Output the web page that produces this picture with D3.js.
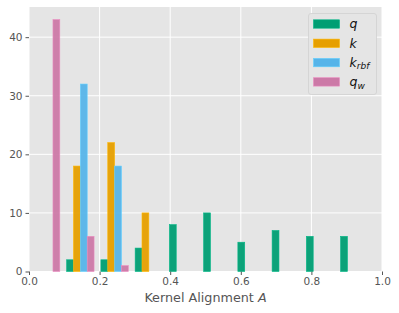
<!DOCTYPE html>
<html>
<head>
<meta charset="utf-8">
<script src="https://cdn.jsdelivr.net/npm/d3@7"></script>
<style>
  body { margin: 0; background: #fff; }
  text { font-family: "DejaVu Sans", sans-serif; }
</style>
</head>
<body>
<div id="chart"></div>
<script>
(function() {

  // bin edges (10 bins)
  const binEdges = [0.000, 0.097, 0.194, 0.291, 0.388, 0.485, 0.582, 0.679, 0.776, 0.873, 0.970];

  const seriesNames = ['q', 'k', 'krbf', 'qw'];
  const seriesColors = ['#009E73', '#E69F00', '#56B4E9', '#CC79A7'];

  const qCounts    = [0, 2, 2, 4, 8, 10, 5, 7, 6, 6];
  const kCounts    = [0, 18, 22, 10, 0, 0, 0, 0, 0, 0];
  const krbfCounts = [0, 32, 18, 0, 0, 0, 0, 0, 0, 0];
  const qwCounts   = [43, 6, 1, 0, 0, 0, 0, 0, 0, 0];

  const xTicks = [0, 0.2, 0.4, 0.6, 0.8, 1.0];
  const yTicks = [0, 10, 20, 30, 40];

  const allCounts = [qCounts, kCounts, krbfCounts, qwCounts];

  const size = { x: 399, y: 313 };
  const plot = { left: 29, top: 7, right: 382, bottom: 271.5 };

  let svg = d3.select('#chart')
    .append('svg')
    .attr('width', size.x)
    .attr('height', size.y);

  let xScale = d3.scaleLinear()
    .domain([0, 1])
    .range([plot.left, plot.right]);

  let yMax = d3.max(allCounts, c => d3.max(c)) * 1.05;
  let yScale = d3.scaleLinear()
    .domain([0, yMax])
    .range([plot.bottom, plot.top]);

  svg.append('rect')
    .attr('x', plot.left)
    .attr('y', plot.top)
    .attr('width', plot.right - plot.left)
    .attr('height', plot.bottom - plot.top)
    .attr('fill', '#E5E5E5');

  // grid
  svg.append('g')
    .selectAll('line')
    .data(xTicks)
    .enter()
    .append('line')
      .attr('x1', d => xScale(d))
      .attr('x2', d => xScale(d))
      .attr('y1', plot.top)
      .attr('y2', plot.bottom)
      .attr('stroke', '#fff')
      .attr('stroke-width', 1);

  svg.append('g')
    .selectAll('line')
    .data(yTicks)
    .enter()
    .append('line')
      .attr('x1', plot.left)
      .attr('x2', plot.right)
      .attr('y1', d => yScale(d))
      .attr('y2', d => yScale(d))
      .attr('stroke', '#fff')
      .attr('stroke-width', 1);

  // bars: 4 per bin, 80% of the bin filled
  let bars = [];
  allCounts.forEach((counts, s) => {
    counts.forEach((c, i) => {
      const w = binEdges[i + 1] - binEdges[i];
      const left = binEdges[i] + 0.1 * w + s * 0.2 * w;
      bars.push({ x0: left, x1: left + 0.2 * w, count: c, s: s });
    });
  });

  svg.append('g')
    .selectAll('rect')
    .data(bars.filter(d => d.count > 0))
    .enter()
    .append('rect')
      .attr('x', d => xScale(d.x0))
      .attr('width', d => xScale(d.x1) - xScale(d.x0))
      .attr('y', d => yScale(d.count))
      .attr('height', d => yScale(0) - yScale(d.count))
      .attr('fill', d => seriesColors[d.s])
      .attr('fill-opacity', 0.95)
      .attr('stroke', d => d3.color(seriesColors[d.s]).brighter(0.4))
      .attr('stroke-width', 0.6);

  // axes
  let xAxis = svg.append('g')
    .attr('transform', `translate(0, ${plot.bottom})`)
    .call(d3.axisBottom(xScale).tickValues(xTicks).tickFormat(d3.format('.1f')).tickSize(3.5).tickPadding(3));
  let yAxis = svg.append('g')
    .attr('transform', `translate(${plot.left}, 0)`)
    .call(d3.axisLeft(yScale).tickValues(yTicks).tickSize(3.5).tickPadding(3));

  [xAxis, yAxis].forEach(ax => {
    ax.select('.domain').remove();
    ax.selectAll('line').attr('stroke', '#555');
    ax.selectAll('text')
      .attr('fill', '#555')
      .style('font-size', '10.5px')
      .style('font-family', '"DejaVu Sans", sans-serif');
  });

  let xLabel = svg.append('text')
    .attr('x', (plot.left + plot.right) / 2)
    .attr('y', 302)
    .attr('text-anchor', 'middle')
    .attr('fill', '#555')
    .style('font-size', '12.75px');
  xLabel.append('tspan').text('Kernel Alignment ');
  xLabel.append('tspan').style('font-style', 'italic').text('A');

  // legend
  let legend = svg.append('g');
  legend.append('rect')
    .attr('x', 308.5)
    .attr('y', 13.5)
    .attr('width', 68)
    .attr('height', 81)
    .attr('rx', 2.5)
    .attr('fill', '#E5E5E5')
    .attr('stroke', '#d0d0d0')
    .attr('stroke-width', 0.8);

  const labelMain = ['q', 'k', 'k', 'q'];
  const labelSub = ['', '', 'rbf', 'w'];

  seriesNames.forEach((name, i) => {
    const cy = 24 + i * 19.3;
    legend.append('rect')
      .attr('x', 313.5)
      .attr('y', cy - 4.2)
      .attr('width', 26)
      .attr('height', 8.4)
      .attr('fill', seriesColors[i])
      .attr('stroke', d3.color(seriesColors[i]).brighter(0.4))
      .attr('stroke-width', 0.6);
    let t = legend.append('text')
      .attr('x', 349.5)
      .attr('y', cy + 4.2)
      .attr('fill', '#111')
      .style('font-size', '12.5px')
      .style('font-style', 'italic');
    t.append('tspan').text(labelMain[i]);
    if (labelSub[i]) {
      t.append('tspan')
        .attr('dy', 2.5)
        .style('font-size', '9px')
        .text(labelSub[i]);
    }
  });
}());
</script>
</body>
</html>
